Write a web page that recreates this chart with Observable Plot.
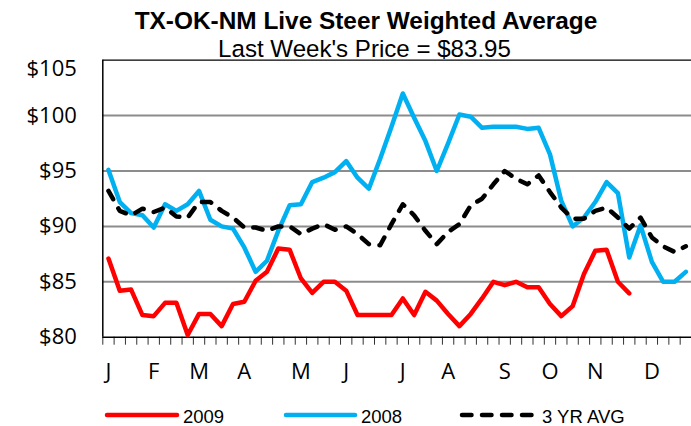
<!DOCTYPE html>
<html>
<head>
<meta charset="utf-8">
<script src="https://cdn.jsdelivr.net/npm/d3@7"></script>
<script src="https://cdn.jsdelivr.net/npm/@observablehq/plot@0.6"></script>
<style>
  body { margin: 0; background: #fff; }
  #wrap { position: relative; width: 691px; height: 426px; overflow: hidden; background: #fff; }
  #wrap svg { position: absolute; left: 0; top: 0; }
</style>
</head>
<body>
<div id="wrap"></div>
<script>
// ---- data (weekly prices, $/cwt) ----
const months = ["J","F","M","A","M","J","J","A","S","O","N","D"];
const monthWeek = [0, 4, 8, 12, 17, 21, 26, 30, 35, 39, 43, 48];
const yTicks = [80, 85, 90, 95, 100, 105];
const gridValues = [85, 90, 95, 100];

const series2009 = [87.1, 84.2, 84.3, 82.0, 81.9, 83.1, 83.1, 80.2, 82.1, 82.1, 81.0, 83.0, 83.2,
  85.1, 85.9, 88.0, 87.9, 85.3, 84.0, 85.0, 85.0, 84.2, 82.0, 82.0, 82.0, 82.0,
  83.5, 82.0, 84.1, 83.3, 82.1, 81.0, 82.1, 83.5, 85.0, 84.7, 85.0, 84.5, 84.5,
  83.0, 81.9, 82.8, 85.7, 87.8, 87.9, 85.0, 83.95];

const series2008 = [95.1, 92.2, 91.2, 91.0, 89.9, 92.0, 91.4, 92.0, 93.2, 90.6, 90.0, 89.8, 88.1,
  85.9, 86.9, 89.6, 91.9, 92.0, 94.0, 94.4, 94.9, 95.9, 94.4, 93.4, 96.1, 99.0,
  102.0, 99.8, 97.7, 95.0, 97.5, 100.1, 99.9, 98.9, 99.0, 99.0, 99.0, 98.8, 98.9,
  96.5, 92.3, 90.0, 90.8, 92.2, 94.0, 93.0, 87.2, 90.1, 86.8, 85.0, 85.0, 85.9];

const series3yr = [93.2, 91.4, 91.0, 91.6, 91.3, 91.7, 90.9, 90.8, 92.2, 92.2, 91.4, 90.8, 89.9,
  89.9, 89.6, 90.0, 90.0, 89.3, 89.8, 90.2, 89.7, 90.0, 89.3, 88.4, 88.3, 90.2,
  92.0, 91.0, 89.6, 88.4, 89.5, 90.2, 91.9, 92.5, 93.8, 95.0, 94.3, 93.8, 94.6,
  93.1, 91.7, 90.7, 90.7, 91.4, 91.7, 90.8, 89.8, 90.8, 89.0, 88.2, 87.7, 88.2];

const seriesNames = ["2009", "2008", "3 YR AVG"];
const seriesColors = ["#FF0000", "#00B0F0", "#000000"];

// category centers: week i sits in the middle of its slot
const toRows = vals => vals.map((v, i) => ({ week: i + 0.5, value: v }));
const rows2009 = toRows(series2009);
const rows2008 = toRows(series2008);
const rows3yr = toRows(series3yr);
const monthRows = months.map((m, i) => ({ week: monthWeek[i] + 0.5, label: m }));

const labelFont = "'Open Sans', 'Liberation Sans', Arial, sans-serif";
const dash = "9.5,10.5";

const chart = Plot.plot({
  width: 691,
  height: 426,
  marginLeft: 102.3,
  marginRight: 0,
  marginTop: 59.7,
  marginBottom: 89.3,
  style: { background: "transparent", overflow: "visible" },
  x: { domain: [0, 52] },
  y: { domain: [80, 105], axis: null },
  marks: [
    Plot.ruleY(gridValues, { stroke: "#8c8c8c", strokeWidth: 2 }),
    Plot.ruleY([105], { stroke: "#000", strokeWidth: 1.2 }),
    Plot.axisX({ ticks: d3.range(53), tickFormat: () => "", tickSize: 8, stroke: "#333", strokeWidth: 1, label: null }),
    Plot.ruleY([80], { stroke: "#000", strokeWidth: 1.5 }),
    Plot.ruleX([0], { stroke: "#000", strokeWidth: 1.5 }),
    Plot.lineY(rows2009, { x: "week", y: "value", stroke: seriesColors[0], strokeWidth: 4.5, strokeLinejoin: "round" }),
    Plot.lineY(rows2008, { x: "week", y: "value", stroke: seriesColors[1], strokeWidth: 4.5, strokeLinejoin: "round" }),
    Plot.lineY(rows3yr, { x: "week", y: "value", stroke: seriesColors[2], strokeWidth: 4.5, strokeLinejoin: "round", strokeLinecap: "round", strokeDasharray: dash }),
    Plot.text(yTicks.filter(v => v < 105), { y: d => d, text: d => "$" + d, frameAnchor: "left", textAnchor: "end", dx: -26, fontSize: 22, fontFamily: labelFont, fill: "#000" }),
    Plot.text(yTicks.filter(v => v === 105), { y: d => d, text: d => "$" + d, frameAnchor: "left", textAnchor: "end", dx: -26, dy: 8.6, fontSize: 22, fontFamily: labelFont, fill: "#000" }),
    Plot.text(monthRows, { x: "week", text: "label", frameAnchor: "bottom", dy: 42, fontSize: 22, fontFamily: labelFont, fill: "#000" })
  ]
});
document.getElementById("wrap").appendChild(chart);

// ---- title, subtitle and legend (overlay) ----
const ov = d3.select("#wrap").append("svg")
  .attr("width", 691).attr("height", 426)
  .style("pointer-events", "none");
const arial = "'Liberation Sans', Arial, Helvetica, sans-serif";
ov.append("text").attr("x", 366).attr("y", 29.3).attr("text-anchor", "middle")
  .attr("font-family", arial).attr("font-weight", "bold").attr("font-size", 24.4)
  .text("TX-OK-NM Live Steer Weighted Average");
ov.append("text").attr("x", 364.5).attr("y", 57.3).attr("text-anchor", "middle")
  .attr("font-family", arial).attr("font-size", 24.1)
  .text("Last Week's Price = $83.95");

const legendItems = [
  { x1: 107, x2: 177, tx: 183 },
  { x1: 286, x2: 355, tx: 361 },
  { x1: 462, x2: 535, tx: 542 }
];
legendItems.forEach((it, i) => {
  ov.append("line").attr("x1", it.x1).attr("x2", it.x2).attr("y1", 415).attr("y2", 415)
    .attr("stroke", seriesColors[i]).attr("stroke-width", 4.5).attr("stroke-linecap", "round")
    .attr("stroke-dasharray", i === 2 ? dash : null);
  ov.append("text").attr("x", it.tx).attr("y", 422.5)
    .attr("font-family", arial).attr("font-size", 18.5).text(seriesNames[i]);
});
</script>
</body>
</html>
